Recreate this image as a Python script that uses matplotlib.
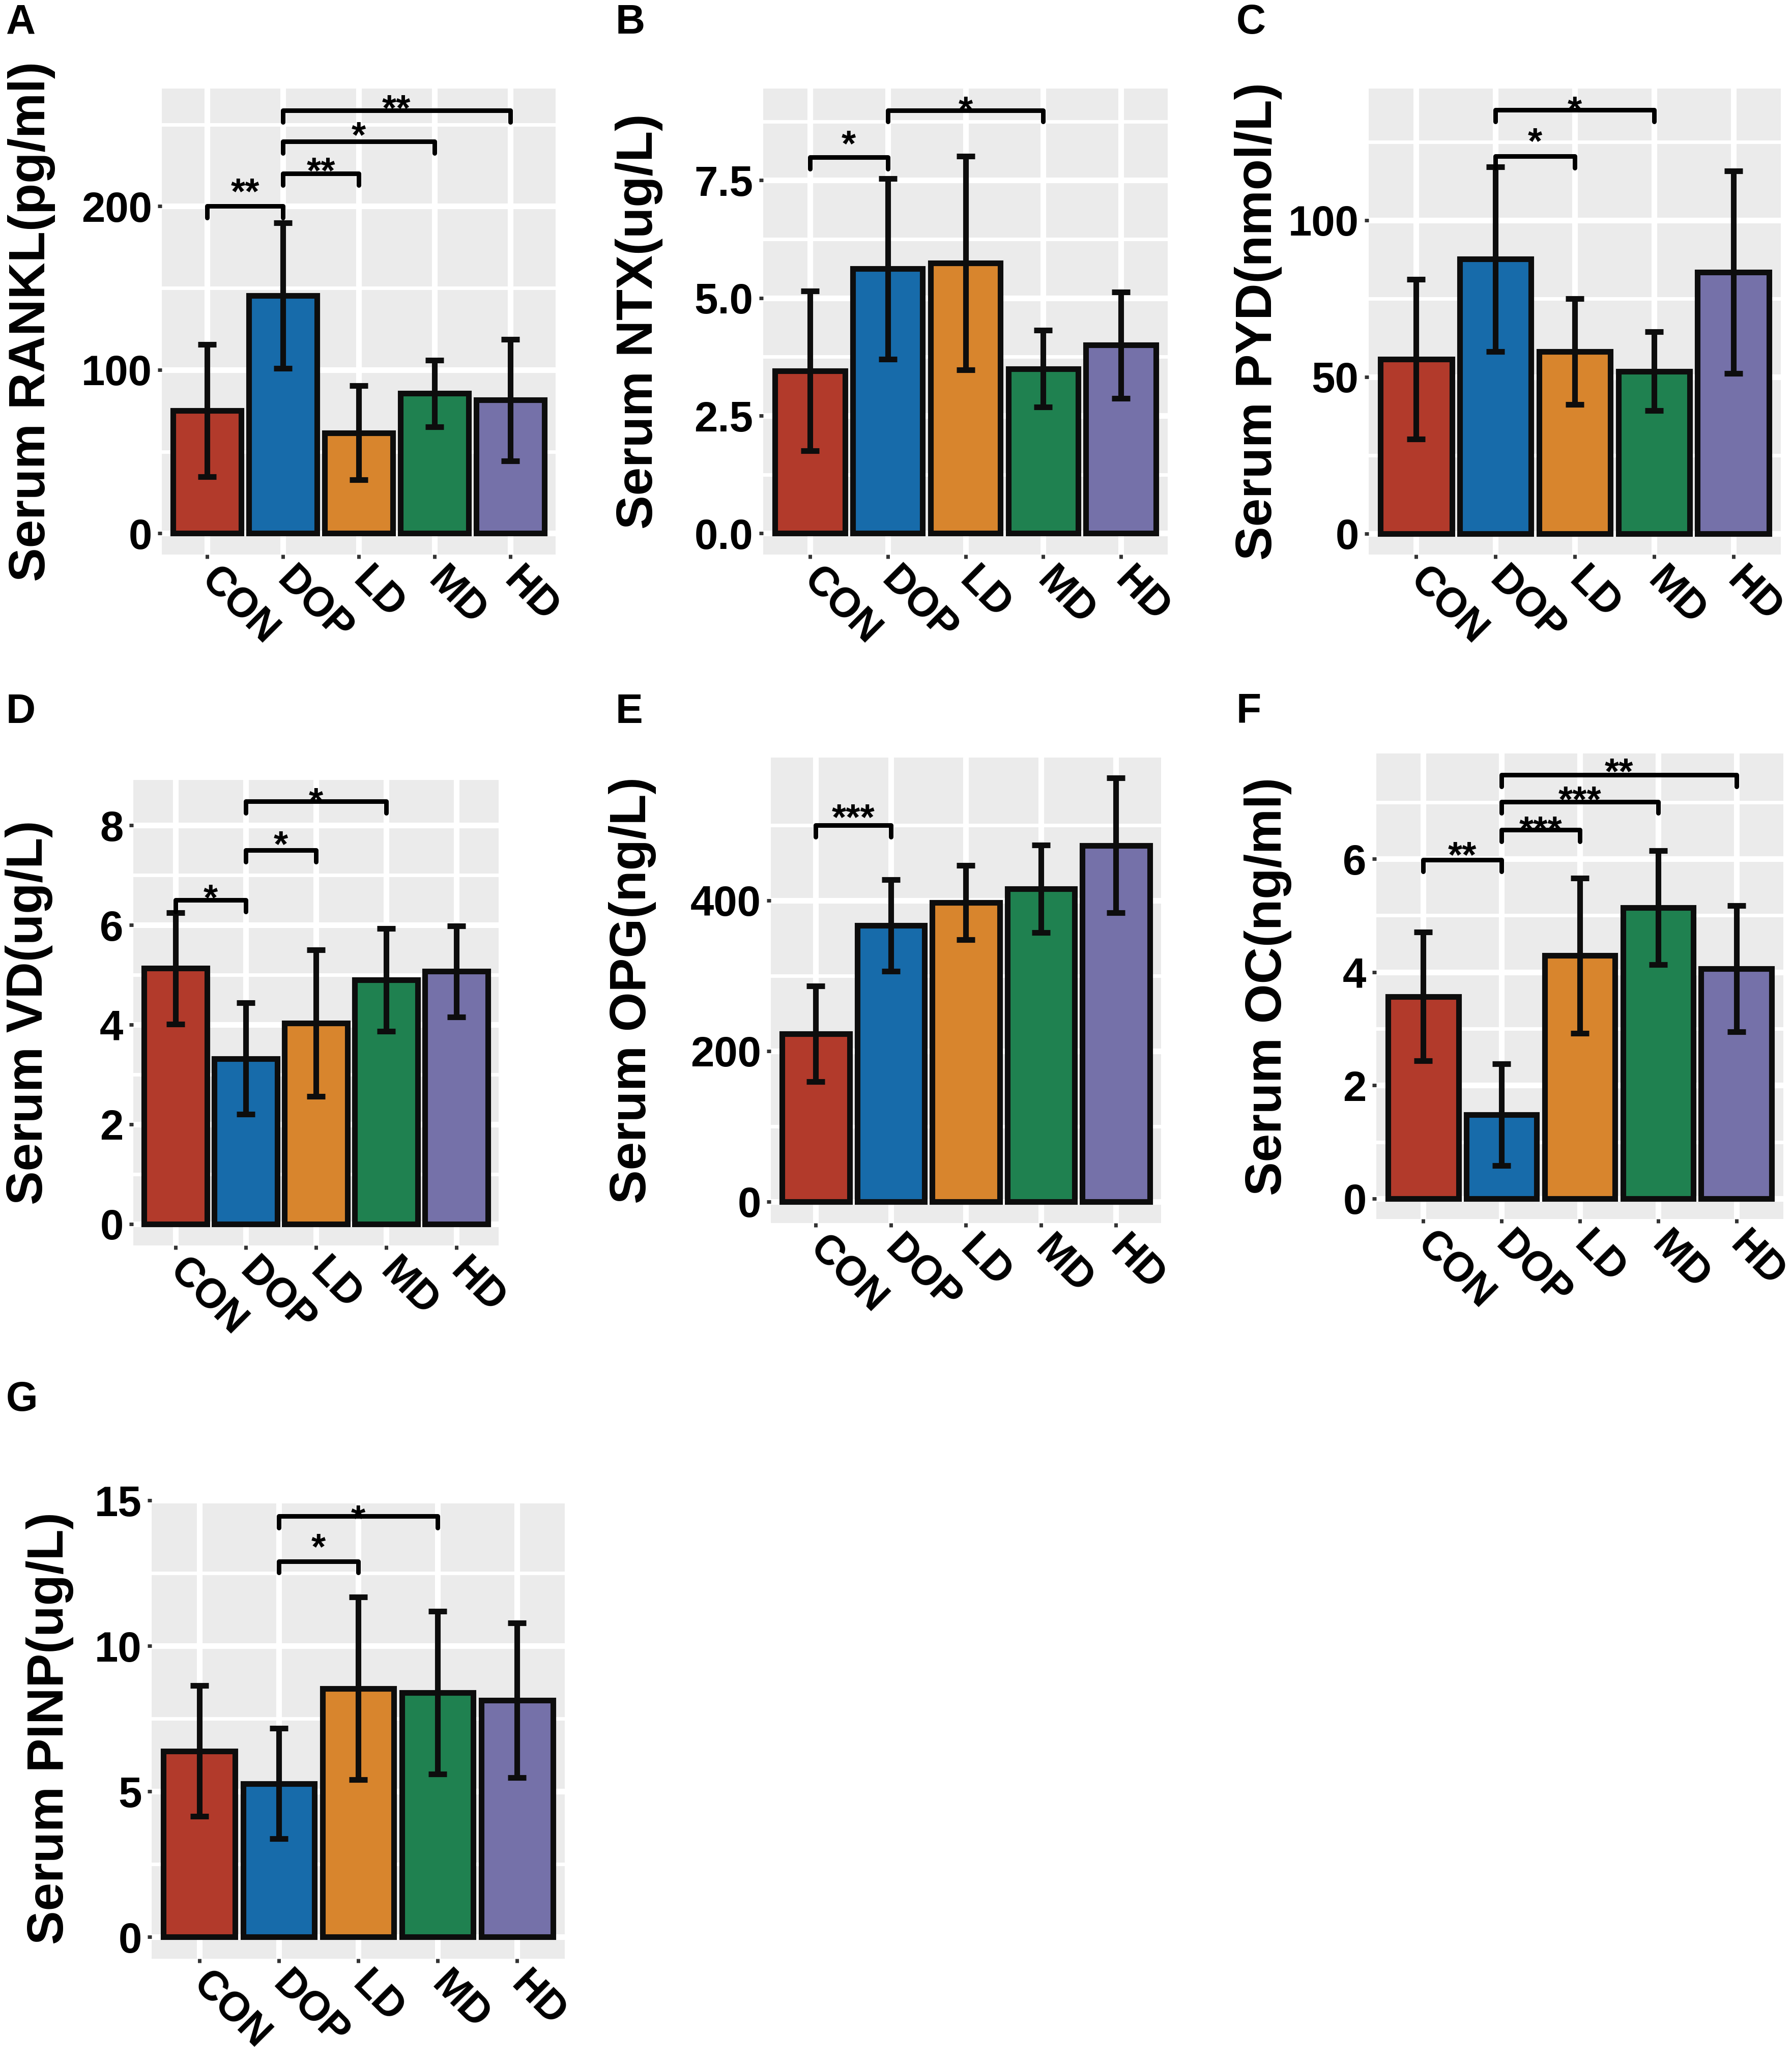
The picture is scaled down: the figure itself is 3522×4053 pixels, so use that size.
import numpy as np
import matplotlib
matplotlib.use('Agg')
from matplotlib import pyplot as plt

plt.rcParams['font.family'] = ['Liberation Sans', 'DejaVu Sans']
plt.rcParams['font.weight'] = 'bold'

groups = ['CON', 'DOP', 'LD', 'MD', 'HD']
colors = ['#B23A2B', '#176BAA', '#D8852D', '#1F8150', '#7571A9']

# mean and sd per group
rankl_mean = [75, 145.5, 61.5, 85.5, 81.5]
rankl_sd = [40.5, 44.5, 28.75, 20.5, 37.25]
ntx_mean = [3.45, 5.62, 5.74, 3.50, 4.00]
ntx_sd = [1.70, 1.92, 2.27, 0.82, 1.13]
pyd_mean = [55.7, 87.6, 58.1, 51.8, 83.4]
pyd_sd = [25.5, 29.45, 16.85, 12.6, 32.35]
vd_mean = [5.13, 3.32, 4.03, 4.90, 5.07]
vd_sd = [1.115, 1.12, 1.47, 1.03, 0.915]
opg_mean = [222.9, 366.9, 397.0, 415.4, 473.1]
opg_sd = [63.4, 60.85, 49.15, 58.0, 89.4]
oc_mean = [3.57, 1.48, 4.29, 5.14, 4.06]
oc_sd = [1.14, 0.90, 1.37, 1.005, 1.11]
pinp_mean = [6.39, 5.27, 8.54, 8.39, 8.13]
pinp_sd = [2.24, 1.90, 3.145, 2.795, 2.665]

# significance brackets: (group a, group b, bracket height, label, label height)
rankl_sig = [(0, 1, 200, '**', 214.6), (1, 2, 220, '**', 227.4),
             (1, 3, 239.5, '*', 249.2), (1, 4, 258.6, '**', 265.8)]
ntx_sig = [(0, 1, 7.99, '*', 8.48), (1, 3, 8.99, '*', 9.20)]
pyd_sig = [(1, 2, 120.4, '*', 128.2), (1, 3, 135.2, '*', 138.3)]
vd_sig = [(0, 1, 6.5, '*', 6.73), (1, 2, 7.5, '*', 7.81), (1, 3, 8.48, '*', 8.67)]
opg_sig = [(0, 1, 500, '***', 522.9)]
oc_sig = [(0, 1, 5.98, '**', 6.23), (1, 2, 6.51, '***', 6.68),
          (1, 3, 7.01, '***', 7.21), (1, 4, 7.48, '**', 7.71)]
pinp_sig = [(1, 2, 12.91, '*', 13.73), (1, 3, 14.45, '*', 14.70)]

rankl_ticks = [0, 100, 200]
ntx_ticks = [0, 2.5, 5.0, 7.5]
pyd_ticks = [0, 50, 100]
vd_ticks = [0, 2, 4, 6, 8]
opg_ticks = [0, 200, 400]
oc_ticks = [0, 2, 4, 6]
pinp_ticks = [0, 5, 10, 15]

W, H = 3523, 4053
fig = plt.figure(figsize=(W / 100, H / 100), dpi=100)
fig.patch.set_facecolor('white')


def box(l, t, r, b):
    return [l / W, 1 - b / H, (r - l) / W, (b - t) / H]


panels = [
    # letter, ylabel, mean, sd, sig, ticks, ticklabels, ylim, panel box, letter xy, ylabel x
    ('A', 'Serum RANKL(pg/ml)', rankl_mean, rankl_sd, rankl_sig, rankl_ticks, None,
     (-13, 272), (318, 174, 1092, 1090), (12, 45), 62),
    ('B', 'Serum NTX(ug/L)', ntx_mean, ntx_sd, ntx_sig, ntx_ticks, ['0.0', '2.5', '5.0', '7.5'],
     (-0.45, 9.45), (1500, 174, 2295, 1090), (1210, 45), 1256),
    ('C', 'Serum PYD(nmol/L)', pyd_mean, pyd_sd, pyd_sig, pyd_ticks, None,
     (-6.7, 142), (2690, 174, 3500, 1090), (2430, 45), 2473),
    ('D', 'Serum VD(ug/L)', vd_mean, vd_sd, vd_sig, vd_ticks, None,
     (-0.43, 8.91), (262, 1533, 980, 2448), (12, 1400), 57),
    ('E', 'Serum OPG(ng/L)', opg_mean, opg_sd, opg_sig, opg_ticks, None,
     (-28.6, 589.7), (1515, 1489, 2282, 2404), (1210, 1400), 1243),
    ('F', 'Serum OC(ng/ml)', oc_mean, oc_sd, oc_sig, oc_ticks, None,
     (-0.36, 7.86), (2705, 1481, 3505, 2396), (2430, 1400), 2492),
    ('G', 'Serum PINP(ug/L)', pinp_mean, pinp_sd, pinp_sig, pinp_ticks, None,
     (-0.75, 15.07), (298, 2945, 1110, 3850), (12, 2752), 98),
]

x = np.arange(len(groups))

for (letter, ylab, mean, sd, sig, ticks, tlabels, ylim, pbox, lxy, ylx) in panels:
    ax = fig.add_axes(box(*pbox))
    ax.set_facecolor('#EBEBEB')
    for s in ax.spines.values():
        s.set_visible(False)
    ax.set_xlim(-0.6, len(groups) - 0.4)
    ax.set_ylim(*ylim)

    # grid
    step = ticks[1] - ticks[0]
    minor = [t + step / 2 for t in ticks[:-1]]
    if ticks[-1] + step / 2 < ylim[1]:
        minor.append(ticks[-1] + step / 2)
    for m in minor:
        ax.axhline(m, color='white', lw=5, zorder=0)
    for t in ticks:
        ax.axhline(t, color='white', lw=8, zorder=0)
    for xi in x:
        ax.axvline(xi, color='white', lw=8, zorder=0)

    ax.bar(x, mean, width=0.9, color=colors, edgecolor='#0d0d0d', linewidth=8, zorder=3)
    ax.errorbar(x, mean, yerr=sd, fmt='none', ecolor='#0d0d0d', elinewidth=8,
                capsize=13, capthick=8, zorder=4)

    leg = 0.025 * (ylim[1] - ylim[0])
    for (a, b, yb, lab, yl) in sig:
        ax.plot([a, a, b, b], [yb - leg, yb, yb, yb - leg], color='black', lw=6.5,
                solid_capstyle='round', zorder=5, clip_on=False)
        ax.annotate(lab, xy=((a + b) / 2, yl), xytext=(0, -0.58 * 52),
                    textcoords='offset points', ha='center', va='baseline',
                    fontsize=52, fontweight='bold', zorder=6, annotation_clip=False)

    ax.set_yticks(ticks)
    ax.set_yticklabels(tlabels if tlabels else [str(t) for t in ticks])
    ax.set_xticks(x)
    ax.set_xticklabels(groups, rotation=-45, ha='left', va='center', rotation_mode='anchor')
    ax.tick_params(axis='both', length=6, width=5, color='#333333', labelcolor='black')
    ax.tick_params(axis='y', pad=8, labelsize=60)
    ax.tick_params(axis='x', pad=22, labelsize=58)
    for t in ax.get_xticklabels() + ax.get_yticklabels():
        t.set_fontweight('bold')

    cy = (pbox[1] + pbox[3]) / 2
    fig.text(ylx / W, 1 - cy / H, ylab, rotation=90, ha='center', va='center',
             fontsize=72, fontweight='bold')
    fig.text(lxy[0] / W, 1 - lxy[1] / H, letter, ha='left', va='center',
             fontsize=58, fontweight='bold')

fig.savefig('out.png', dpi=100, facecolor='white')
